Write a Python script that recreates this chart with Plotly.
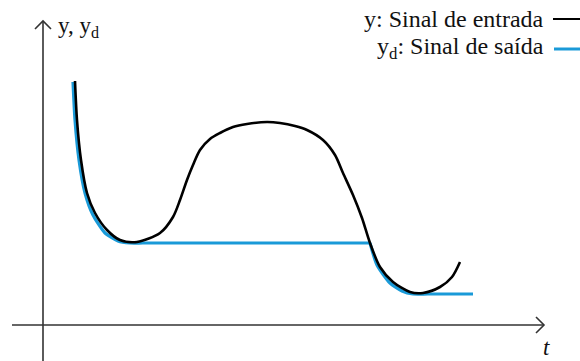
import plotly.graph_objects as go

# Data (arbitrary units; origin at axis intersection)
t_in = [3.2, 3.4, 3.8, 4.4, 5.2, 6.4, 7.7, 9.4, 11.7, 13.0, 13.7, 14.4, 15.0, 15.7, 16.7,
        17.7, 19.0, 20.4, 22.4, 23.7, 25.2, 26.4, 28.0, 29.2, 30.0, 31.0, 31.9, 32.7,
        33.7, 35.0, 36.7, 38.0, 39.7, 40.9, 41.7]
y_in = [24.4, 20.5, 16.5, 13.2, 11.2, 9.5, 8.5, 8.3, 9.2, 10.8, 12.5, 14.5, 16.0, 17.5, 18.6,
        19.2, 19.8, 20.1, 20.3, 20.2, 19.9, 19.5, 18.5, 17.0, 15.2, 13.0, 10.7, 8.2,
        5.8, 4.3, 3.3, 3.2, 3.8, 4.8, 6.3]

t_out_a = [3.0, 3.2, 3.6, 4.2, 5.0, 6.2, 7.5, 8.7, 10.0, 20.0, 32.7]
y_out_a = [24.3, 20.5, 16.5, 13.2, 11.0, 9.2, 8.4, 8.2, 8.2, 8.2, 8.2]
t_out_b = [32.7, 33.4, 34.7, 35.9, 37.0, 38.5, 43.0]
y_out_b = [8.2, 6.0, 4.2, 3.4, 3.1, 3.1, 3.1]

label_in = "y: Sinal de entrada"
label_out = "y<sub>d</sub>: Sinal de saída"
axis_y_label = "y, y<sub>d</sub>"
axis_t_label = "<i>t</i>"

BLACK = "#000000"
BLUE = "#1a9ad8"
AXIS = "#333333"
SERIF = "Liberation Serif"

W, H = 580, 361
# pixel mapping: px = 43 + 10*t ; py = 325 - 10*y
x_range = [(0 - 43) / 10, (W - 43) / 10]
y_range = [(325 - H) / 10, (325 - 0) / 10]

fig = go.Figure()
for tx, ty in ((t_out_a, y_out_a), (t_out_b, y_out_b)):
    fig.add_trace(go.Scatter(x=tx, y=ty, mode="lines",
                             line=dict(color=BLUE, width=3.2, shape="spline", smoothing=0.6),
                             showlegend=False, hoverinfo="skip"))
fig.add_trace(go.Scatter(x=t_in, y=y_in, mode="lines",
                         line=dict(color=BLACK, width=2.6, shape="spline", smoothing=0.8),
                         showlegend=False, hoverinfo="skip"))

# axes with open arrowheads
axline = dict(color=AXIS, width=1.6)
fig.add_shape(type="line", x0=-3.1, y0=0, x1=50.1, y1=0, line=axline)
fig.add_shape(type="path", path="M 49.3 0.8 L 50.1 0 L 49.3 -0.8", line=axline)
fig.add_shape(type="line", x0=0, y0=y_range[0], x1=0, y1=30.4, line=axline)
fig.add_shape(type="path", path="M -0.8 29.6 L 0 30.4 L 0.8 29.6", line=axline)

# legend samples
fig.add_shape(type="line", xref="paper", yref="paper", x0=553 / W, x1=1.0,
              y0=1 - 19 / H, y1=1 - 19 / H, line=dict(color=BLACK, width=2))
fig.add_shape(type="line", xref="paper", yref="paper", x0=554 / W, x1=1.0,
              y0=1 - 49 / H, y1=1 - 49 / H, line=dict(color=BLUE, width=3))

fig.add_annotation(xref="paper", yref="paper", x=546 / W, y=1 - 19 / H, text=label_in,
                   showarrow=False, xanchor="right", yanchor="middle",
                   font=dict(family=SERIF, size=24, color="#111111"))
fig.add_annotation(xref="paper", yref="paper", x=546 / W, y=1 - 48 / H, text=label_out,
                   showarrow=False, xanchor="right", yanchor="middle",
                   font=dict(family=SERIF, size=24, color="#111111"))
fig.add_annotation(xref="paper", yref="paper", x=56 / W, y=1 - 27 / H, text=axis_y_label,
                   showarrow=False, xanchor="left", yanchor="middle",
                   font=dict(family=SERIF, size=23, color="#111111"))
fig.add_annotation(xref="paper", yref="paper", x=546 / W, y=1 - 347 / H, text=axis_t_label,
                   showarrow=False, xanchor="center", yanchor="middle",
                   font=dict(family=SERIF, size=23, color="#111111"))

fig.update_layout(width=W, height=H, autosize=False,
                  font=dict(family=SERIF, size=23, color="#111111"),
                  margin=dict(l=0, r=0, t=0, b=0),
                  paper_bgcolor="white", plot_bgcolor="white",
                  xaxis=dict(range=x_range, visible=False, fixedrange=True),
                  yaxis=dict(range=y_range, visible=False, fixedrange=True))

fig.write_html("out.html", config={"displayModeBar": False},
               post_script="document.body.style.margin='0';document.body.style.overflow='hidden';")
